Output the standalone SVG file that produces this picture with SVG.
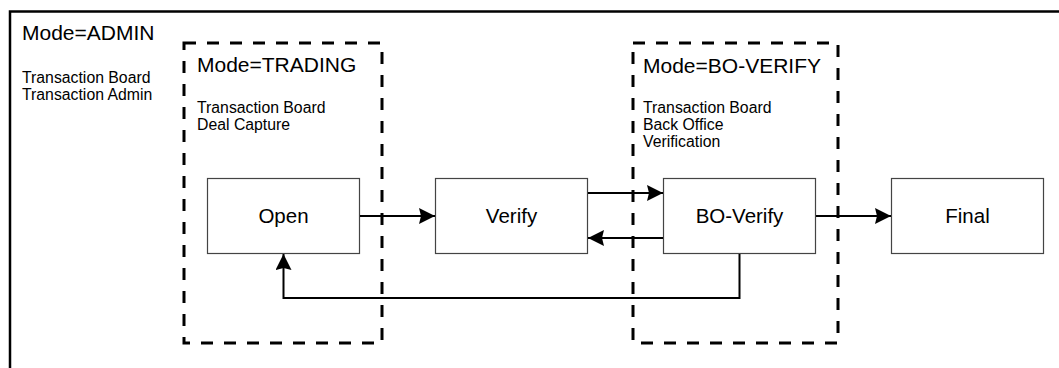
<svg xmlns="http://www.w3.org/2000/svg" width="1059" height="368" viewBox="0 0 1059 368">
  <style>
    text { font-family: "Liberation Sans", Arial, sans-serif; fill: #000; }
    .title { font-size: 21px; }
    .item { font-size: 15.8px; }
    .label { font-size: 20.5px; text-anchor: middle; }
    .node rect { fill: #fff; stroke: #444; stroke-width: 1.2; }
    .mode { fill: none; stroke: #000; stroke-width: 3; stroke-dasharray: 12 11; }
    .edge { fill: none; stroke: #000; stroke-width: 2; marker-end: url(#arrow); }
  </style>
  <defs>
    <marker id="arrow" viewBox="0 0 16 16" refX="16" refY="8" markerWidth="16" markerHeight="16" markerUnits="userSpaceOnUse" orient="auto">
      <path d="M0,0 L16,8 L0,16 L2,8 Z" fill="#000"/>
    </marker>
  </defs>
  <rect width="1059" height="368" fill="#fff"/>

  <!-- ADMIN mode frame (runs off the right and bottom edges) -->
  <g id="mode-admin">
    <rect x="10" y="11.5" width="1100" height="400" fill="none" stroke="#000" stroke-width="2.5"/>
    <text class="title" x="22" y="40">Mode=ADMIN</text>
    <text class="item" x="22" y="83">Transaction Board</text>
    <text class="item" x="22" y="100">Transaction Admin</text>
  </g>

  <!-- TRADING mode region -->
  <g id="mode-trading">
    <rect class="mode" x="184" y="43" width="198" height="300"/>
    <text class="title" x="197" y="72">Mode=TRADING</text>
    <text class="item" x="197" y="113">Transaction Board</text>
    <text class="item" x="197" y="130">Deal Capture</text>
  </g>

  <!-- BO-VERIFY mode region -->
  <g id="mode-bo-verify">
    <rect class="mode" x="633" y="43" width="205" height="300"/>
    <text class="title" x="643" y="73">Mode=BO-VERIFY</text>
    <text class="item" x="643" y="113">Transaction Board</text>
    <text class="item" x="643" y="130">Back Office</text>
    <text class="item" x="643" y="147">Verification</text>
  </g>

  <!-- State nodes -->
  <g id="node-open" class="node">
    <rect x="207.5" y="178.5" width="152" height="75"/>
    <text class="label" x="283.5" y="223">Open</text>
  </g>
  <g id="node-verify" class="node">
    <rect x="435.5" y="178.5" width="152" height="75"/>
    <text class="label" x="511.5" y="223">Verify</text>
  </g>
  <g id="node-bo-verify" class="node">
    <rect x="663.5" y="178.5" width="152" height="75"/>
    <text class="label" x="739.5" y="223">BO-Verify</text>
  </g>
  <g id="node-final" class="node">
    <rect x="891.5" y="178.5" width="152" height="75"/>
    <text class="label" x="967.5" y="223">Final</text>
  </g>

  <!-- Transitions -->
  <g id="connectors">
    <path class="edge" d="M360,216 L435,216"/>
    <path class="edge" d="M588,193 L663,193"/>
    <path class="edge" d="M663,238 L588,238"/>
    <path class="edge" d="M816,216 L891,216"/>
    <path class="edge" d="M739.5,254 L739.5,298 L283.5,298 L283.5,254"/>
  </g>
</svg>
